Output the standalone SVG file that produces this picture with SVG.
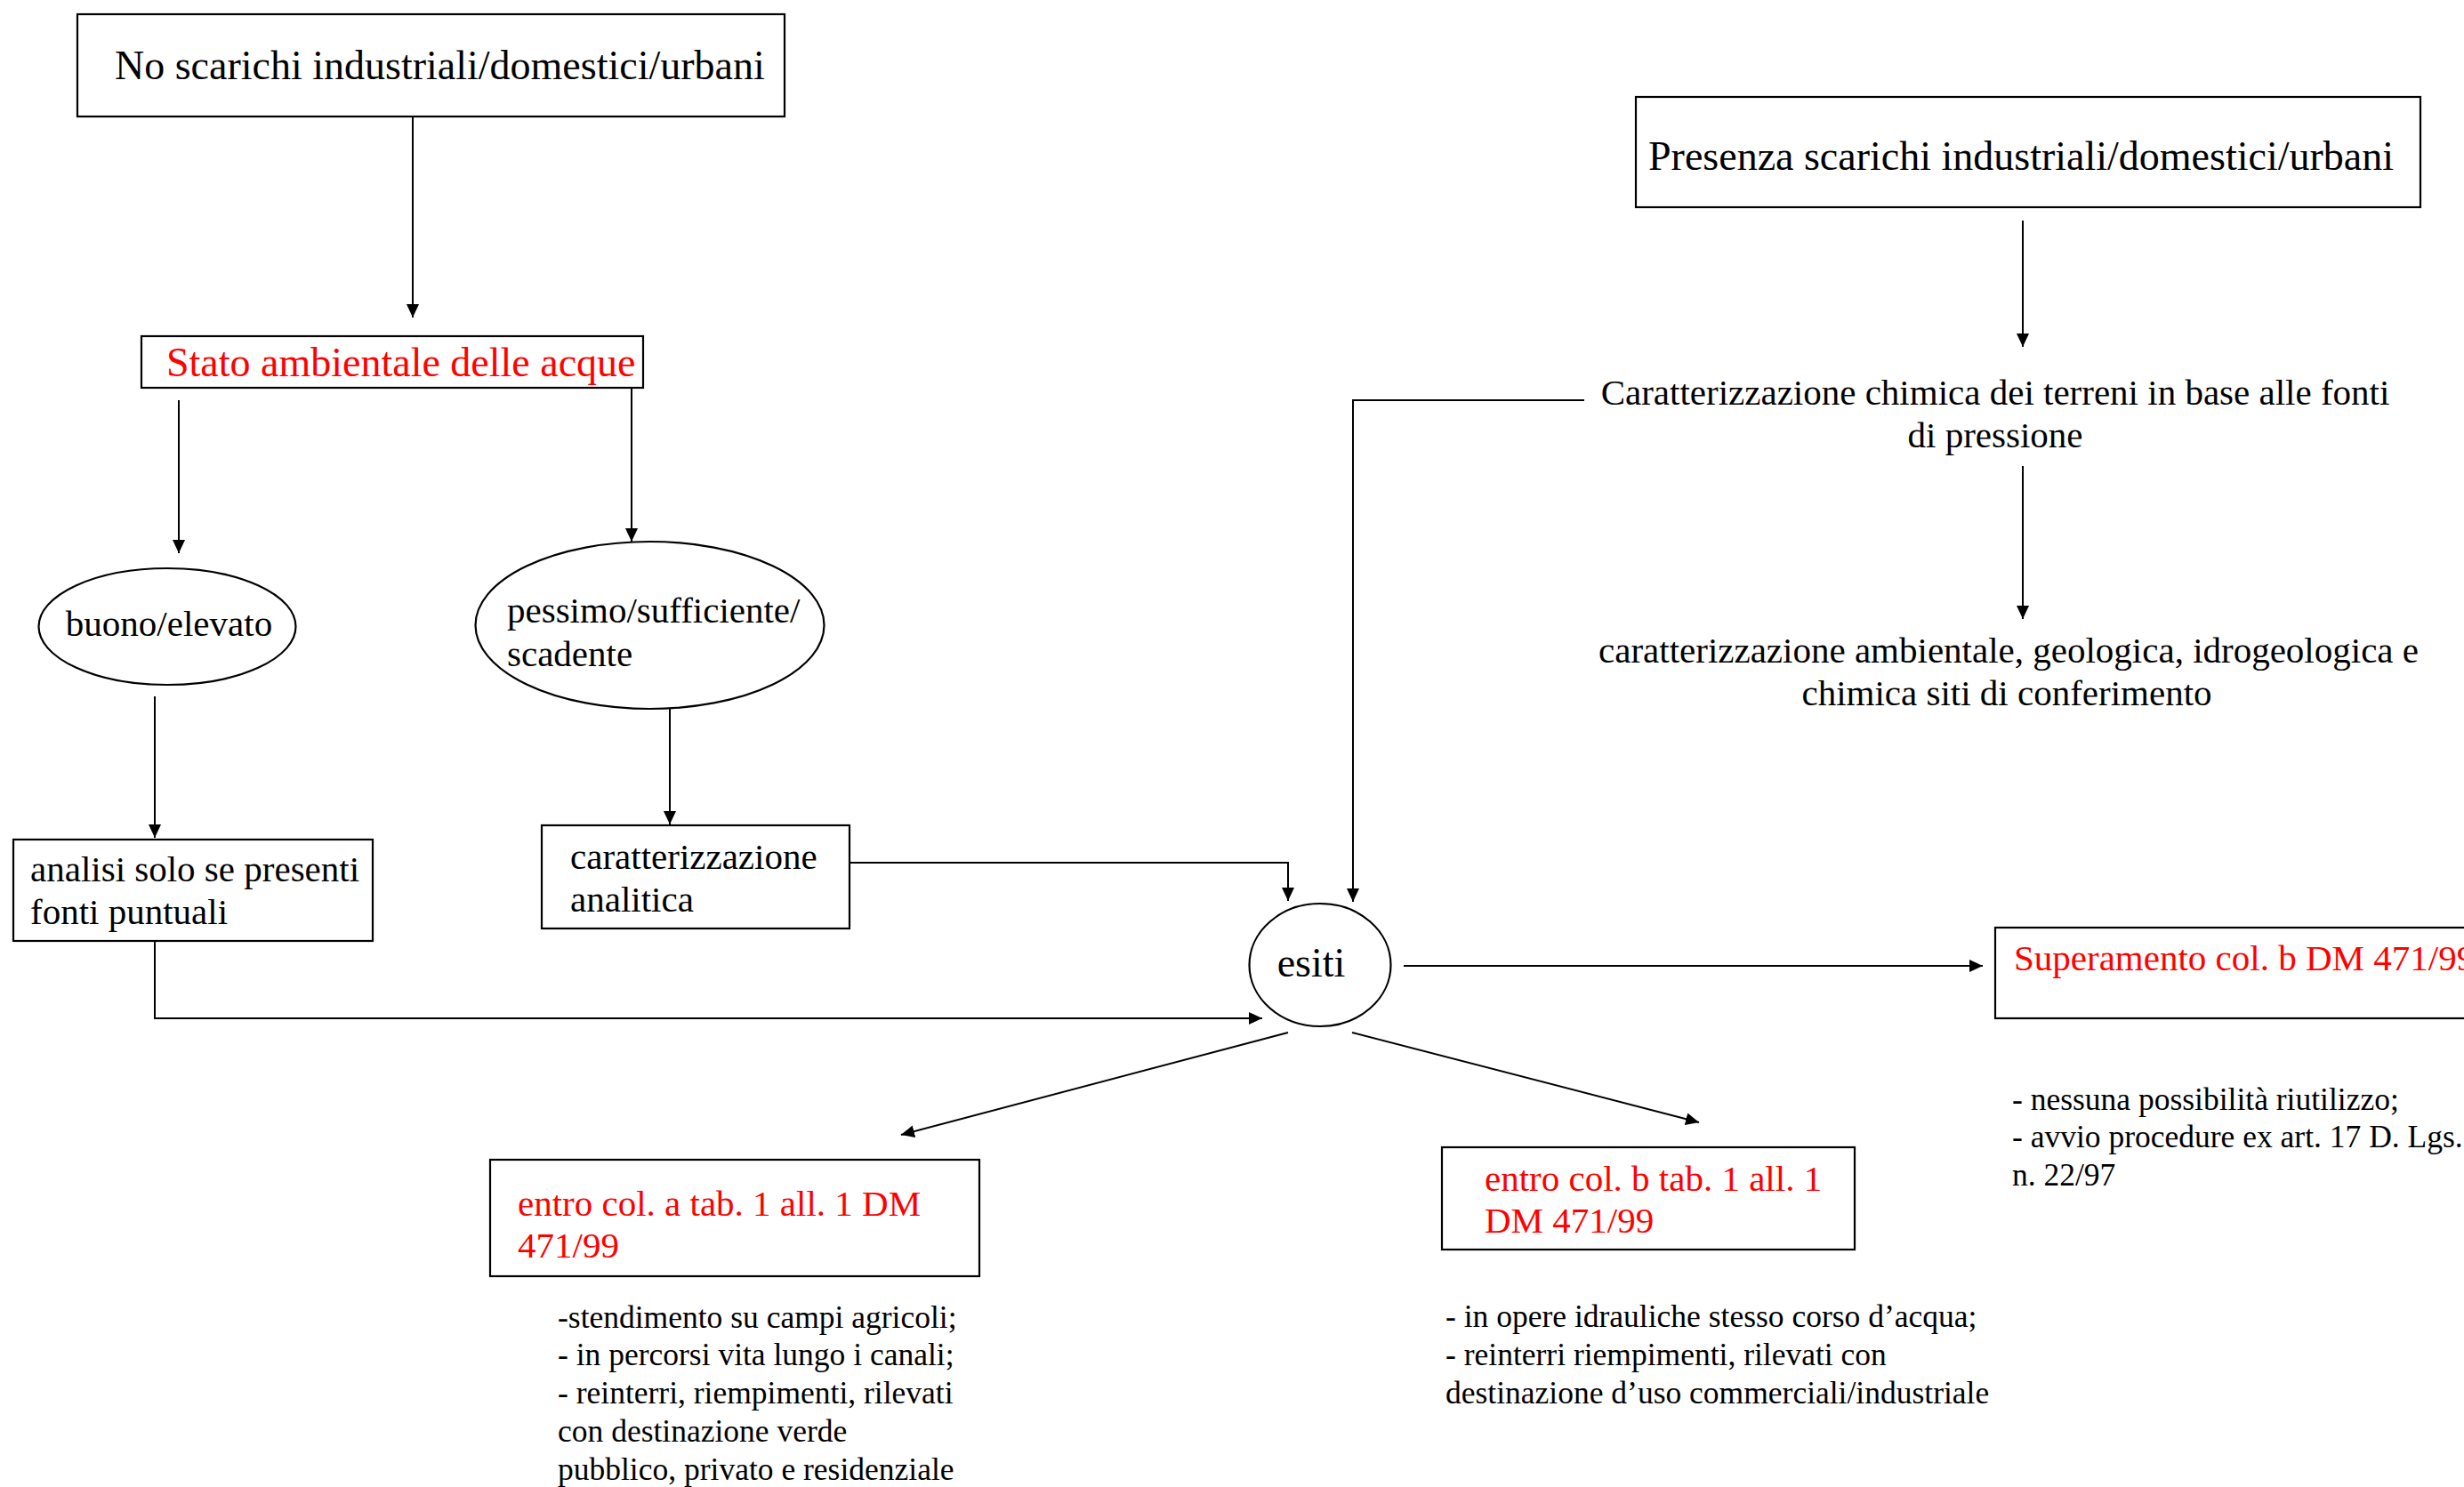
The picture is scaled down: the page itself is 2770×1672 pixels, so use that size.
<svg xmlns="http://www.w3.org/2000/svg" width="2770" height="1672" viewBox="0 0 2770 1672">
<style>
text{font-family:"Liberation Serif","Times New Roman",serif;fill:#000}
.t{font-size:46px}
.m{font-size:41px}
.s{font-size:35.5px}
.red{fill:#ff0000}
.box{fill:#fff;stroke:#000;stroke-width:2.2}
.con{fill:none;stroke:#000;stroke-width:2}
.arr{marker-end:url(#ah)}
</style>
<defs>
<marker id="ah" markerWidth="16" markerHeight="14" refX="15" refY="7" orient="auto" markerUnits="userSpaceOnUse"><path d="M0,0 L15,7 L0,14 z" fill="#000"/></marker>
</defs>
<rect width="2770" height="1672" fill="#fff"/>
<g id="connectors">
<path class="con arr" d="M464,131 V357"/>
<path class="con arr" d="M201,450 V622"/>
<path class="con arr" d="M710,436 V609"/>
<path class="con arr" d="M174,783 V942"/>
<path class="con arr" d="M753,797 V927"/>
<path class="con arr" d="M955,970 H1448 V1013"/>
<path class="con arr" d="M174,1058 V1145 H1419"/>
<path class="con arr" d="M1781,450 H1521 V1014"/>
<path class="con arr" d="M2274,248 V390"/>
<path class="con arr" d="M2274,524 V696"/>
<path class="con arr" d="M1578,1086 H2229"/>
<path class="con arr" d="M1448,1161 L1013,1276"/>
<path class="con arr" d="M1520,1161 L1910,1262"/>
</g>
<g id="n-no-scarichi">
<rect class="box" x="87" y="16" width="795" height="115"/>
<text class="t" x="129" y="89">No scarichi industriali/domestici/urbani</text>
</g>
<g id="n-stato">
<rect class="box" x="159" y="378" width="564" height="58"/>
<text class="t red" x="187" y="423">Stato ambientale delle acque</text>
</g>
<g id="n-buono">
<ellipse class="box" cx="188" cy="704.5" rx="144.5" ry="65.5"/>
<text class="m" x="190" y="715" text-anchor="middle">buono/elevato</text>
</g>
<g id="n-pessimo">
<ellipse class="box" cx="730.5" cy="703" rx="196" ry="94"/>
<text class="m" x="570" y="700">pessimo/sufficiente/</text>
<text class="m" x="570" y="749">scadente</text>
</g>
<g id="n-analisi">
<rect class="box" x="15" y="944" width="404" height="114"/>
<text class="m" x="34" y="991">analisi solo se presenti</text>
<text class="m" x="34" y="1039">fonti puntuali</text>
</g>
<g id="n-caratt-analitica">
<rect class="box" x="609" y="928" width="346" height="116"/>
<text class="m" x="641" y="977">caratterizzazione</text>
<text class="m" x="641" y="1025">analitica</text>
</g>
<g id="n-presenza">
<rect class="box" x="1839" y="109" width="882" height="124"/>
<text class="t" x="1853" y="191">Presenza scarichi industriali/domestici/urbani</text>
</g>
<g id="n-caratt-chimica">
<text class="m" x="2243" y="455" text-anchor="middle">Caratterizzazione chimica dei terreni in base alle fonti</text>
<text class="m" x="2243" y="503" text-anchor="middle">di pressione</text>
</g>
<g id="n-caratt-ambientale">
<text class="m" x="2258" y="745" text-anchor="middle">caratterizzazione ambientale, geologica, idrogeologica e</text>
<text class="m" x="2256" y="793" text-anchor="middle">chimica siti di conferimento</text>
</g>
<g id="n-esiti">
<ellipse class="box" cx="1484" cy="1085" rx="79.5" ry="69"/>
<text class="t" x="1474" y="1098" text-anchor="middle">esiti</text>
</g>
<g id="n-superamento">
<rect class="box" x="2243" y="1043" width="560" height="102"/>
<text class="m red" x="2264" y="1091">Superamento col. b DM 471/99</text>
<text class="s" x="2262" y="1248">- nessuna possibilità riutilizzo;</text>
<text class="s" x="2262" y="1290">- avvio procedure ex art. 17 D. Lgs.</text>
<text class="s" x="2262" y="1333">n. 22/97</text>
</g>
<g id="n-col-a">
<rect class="box" x="551" y="1304" width="550" height="131"/>
<text class="m red" x="582" y="1367">entro col. a tab. 1 all. 1 DM</text>
<text class="m red" x="582" y="1414">471/99</text>
<text class="s" x="627" y="1493">-stendimento su campi agricoli;</text>
<text class="s" x="627" y="1535">- in percorsi vita lungo i canali;</text>
<text class="s" x="627" y="1578">- reinterri, riempimenti, rilevati</text>
<text class="s" x="627" y="1621">con destinazione verde</text>
<text class="s" x="627" y="1664">pubblico, privato e residenziale</text>
</g>
<g id="n-col-b">
<rect class="box" x="1621" y="1290" width="464" height="115"/>
<text class="m red" x="1669" y="1339">entro col. b tab. 1 all. 1</text>
<text class="m red" x="1669" y="1386">DM 471/99</text>
<text class="s" x="1625" y="1492">- in opere idrauliche stesso corso d’acqua;</text>
<text class="s" x="1625" y="1535">- reinterri riempimenti, rilevati con</text>
<text class="s" x="1625" y="1578">destinazione d’uso commerciali/industriale</text>
</g>
</svg>
